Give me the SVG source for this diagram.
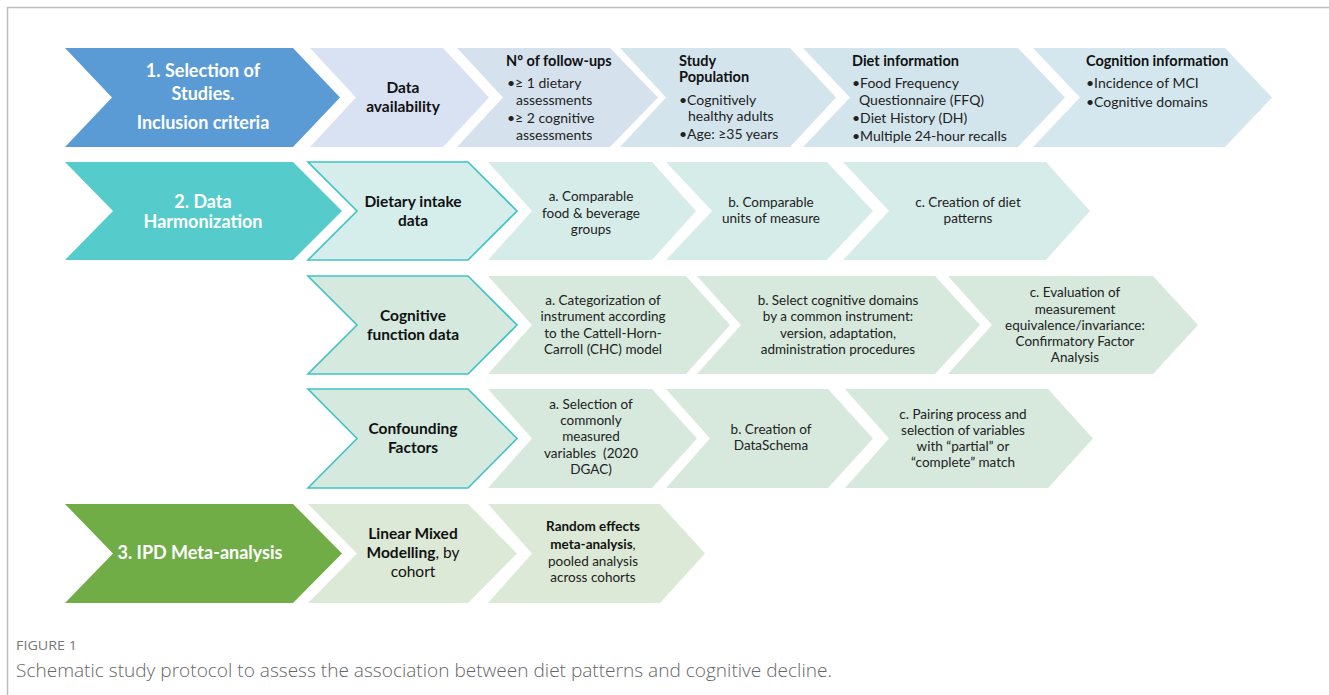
<svg xmlns="http://www.w3.org/2000/svg" width="1329" height="695" viewBox="0 0 1329 695">
<style>
  text { font-family: Lato, "Liberation Sans", sans-serif; }
  .hw { fill: #ffffff; font-weight: bold; font-size: 18px; text-anchor: middle; }
  .hb { fill: #111111; font-weight: bold; font-size: 15.5px; text-anchor: middle; }
  .h1 { fill: #111111; font-weight: bold; font-size: 14.5px; }
  .t1 { fill: #222222; font-size: 14px; }
  .tc { fill: #222222; font-size: 13.5px; text-anchor: middle; }
  .n { font-weight: normal; }
  .bb { font-weight: bold; fill: #111111; }
  .outl { stroke: #3fc3c7; stroke-width: 1.6; }
  .cap1 { font-family: "Open Sans", Lato, sans-serif; fill: #777777; font-size: 13.5px; }
  .cap2 { font-family: "Open Sans", Lato, sans-serif; fill: #666666; font-size: 18px; font-weight: 300; }
</style>
<rect x="0" y="0" width="1329" height="695" fill="#ffffff"/>
<path d="M7.5,695 V7.5 H1329" fill="none" stroke="#bdbdbd" stroke-width="1.5"/>

<g id="connectors"></g>

<!-- Row 1 -->
<g id="sel">
  <polygon points="65,48 293,48 340,97.5 293,147 65,147 112,97.5" fill="#5b9bd5"/>
  <text class="hw" x="203" y="77">1. Selection of</text>
  <text class="hw" x="203" y="100">Studies.</text>
  <text class="hw" x="203" y="129">Inclusion criteria</text>
</g>
<g id="avail">
  <polygon points="310,48 443,48 489,97.5 443,147 310,147 356,97.5" fill="#d9e2f2"/>
  <text class="hb" x="403" y="93">Data</text>
  <text class="hb" x="403" y="112">availability</text>
</g>
<g id="followups">
  <polygon points="457,48 610,48 658,97.5 610,147 457,147 503,97.5" fill="#d5e2ee"/>
  <text class="h1" x="506" y="66">Nº of follow-ups</text>
  <text class="t1" x="507" y="88">•≥ 1 dietary</text>
  <text class="t1" x="516" y="105">assessments</text>
  <text class="t1" x="507" y="123">•≥ 2 cognitive</text>
  <text class="t1" x="516" y="140">assessments</text>
</g>
<g id="population">
  <polygon points="620,48 790,48 836,97.5 790,147 620,147 666,97.5" fill="#d4e4ed"/>
  <text class="h1" x="679" y="66">Study</text>
  <text class="h1" x="679" y="82">Population</text>
  <text class="t1" x="679" y="105">•Cognitively</text>
  <text class="t1" x="688" y="121">healthy adults</text>
  <text class="t1" x="679" y="139">•Age: ≥35 years</text>
</g>
<g id="diet">
  <polygon points="803,48 1018,48 1065,97.5 1018,147 803,147 850,97.5" fill="#d3e5ec"/>
  <text class="h1" x="852" y="66">Diet information</text>
  <text class="t1" x="852" y="88">•Food Frequency</text>
  <text class="t1" x="859" y="105">Questionnaire (FFQ)</text>
  <text class="t1" x="852" y="123">•Diet History (DH)</text>
  <text class="t1" x="852" y="141">•Multiple 24-hour recalls</text>
</g>
<g id="cognition">
  <polygon points="1033,48 1225,48 1272,97.5 1225,147 1033,147 1080,97.5" fill="#d5e7ee"/>
  <text class="h1" x="1086" y="66">Cognition information</text>
  <text class="t1" x="1086" y="88">•Incidence of MCI</text>
  <text class="t1" x="1086" y="107">•Cognitive domains</text>
</g>

<!-- Row 2 -->
<g id="harm">
  <polygon points="65,162 293,162 342,211 293,260 65,260 113,211" fill="#55cbcb"/>
  <text class="hw" x="203" y="208">2. Data</text>
  <text class="hw" x="203" y="228">Harmonization</text>
</g>
<g id="dietary">
  <polygon class="outl" points="308,162 468,162 517,211 468,260 308,260 357,211" fill="#d5eeec"/>
  <text class="hb" x="413" y="207">Dietary intake</text>
  <text class="hb" x="413" y="226">data</text>
</g>
<g id="d-a">
  <polygon points="488,162 652,162 696,211 652,260 488,260 532,211" fill="#d6ece8"/>
  <text class="tc" x="591" y="201">a. Comparable</text>
  <text class="tc" x="591" y="218">food &amp; beverage</text>
  <text class="tc" x="591" y="234">groups</text>
</g>
<g id="d-b">
  <polygon points="666,162 827,162 873,211 827,260 666,260 712,211" fill="#d6ece8"/>
  <text class="tc" x="771" y="207">b. Comparable</text>
  <text class="tc" x="771" y="223">units of measure</text>
</g>
<g id="d-c">
  <polygon points="843,162 1046,162 1090,211 1046,260 843,260 889,211" fill="#d6ece8"/>
  <text class="tc" x="968" y="207">c. Creation of diet</text>
  <text class="tc" x="968" y="223">patterns</text>
</g>

<!-- Row 3 -->
<g id="cogfun">
  <polygon class="outl" points="308,276 468,276 517,325 468,374 308,374 357,325" fill="#d5e9df"/>
  <text class="hb" x="413" y="321">Cognitive</text>
  <text class="hb" x="413" y="340">function data</text>
</g>
<g id="c-a">
  <polygon points="488,276 686,276 730,325 686,374 488,374 532,325" fill="#d6e9dc"/>
  <text class="tc" x="603" y="305">a. Categorization of</text>
  <text class="tc" x="603" y="321">instrument according</text>
  <text class="tc" x="603" y="338">to the Cattell-Horn-</text>
  <text class="tc" x="603" y="354">Carroll (CHC) model</text>
</g>
<g id="c-b">
  <polygon points="697,276 935,276 980,325 935,374 697,374 741,325" fill="#d6e9dc"/>
  <text class="tc" x="838" y="305">b. Select cognitive domains</text>
  <text class="tc" x="838" y="321">by a common instrument:</text>
  <text class="tc" x="838" y="338">version, adaptation,</text>
  <text class="tc" x="838" y="354">administration procedures</text>
</g>
<g id="c-c">
  <polygon points="948,276 1153,276 1198,325 1153,374 948,374 992,325" fill="#d6e9dc"/>
  <text class="tc" x="1075" y="297">c. Evaluation of</text>
  <text class="tc" x="1075" y="314">measurement</text>
  <text class="tc" x="1075" y="330">equivalence/invariance:</text>
  <text class="tc" x="1075" y="346">Confirmatory Factor</text>
  <text class="tc" x="1075" y="362">Analysis</text>
</g>

<!-- Row 4 -->
<g id="confound">
  <polygon class="outl" points="308,389 468,389 517,438.5 468,488 308,488 357,438.5" fill="#d5e9df"/>
  <text class="hb" x="413" y="434">Confounding</text>
  <text class="hb" x="413" y="453">Factors</text>
</g>
<g id="f-a">
  <polygon points="488,389 652,389 697,438.5 652,488 488,488 532,438.5" fill="#d6e9dc"/>
  <text class="tc" x="591" y="409">a. Selection of</text>
  <text class="tc" x="591" y="425">commonly</text>
  <text class="tc" x="591" y="441">measured</text>
  <text class="tc" x="591" y="458">variables&#160; (2020</text>
  <text class="tc" x="591" y="474">DGAC)</text>
</g>
<g id="f-b">
  <polygon points="666,389 828,389 873,438.5 828,488 666,488 710,438.5" fill="#d6e9dc"/>
  <text class="tc" x="771" y="434">b. Creation of</text>
  <text class="tc" x="771" y="450">DataSchema</text>
</g>
<g id="f-c">
  <polygon points="845,389 1048,389 1093,438.5 1048,488 845,488 889,438.5" fill="#d6e9dc"/>
  <text class="tc" x="963" y="419">c. Pairing process and</text>
  <text class="tc" x="963" y="435">selection of variables</text>
  <text class="tc" x="963" y="451">with “partial” or</text>
  <text class="tc" x="963" y="467">“complete” match</text>
</g>

<!-- Row 5 -->
<g id="ipd">
  <polygon points="65,504 293,504 342,553.5 293,603 65,603 113,553.5" fill="#70ad47"/>
  <text class="hw" x="200" y="559">3. IPD Meta-analysis</text>
</g>
<g id="lmm">
  <polygon points="308,504 468,504 517,553.5 468,603 308,603 357,553.5" fill="#dce9d6"/>
  <text class="hb" x="413" y="539">Linear Mixed</text>
  <text class="hb" x="413" y="558">Modelling<tspan class="n">, by</tspan></text>
  <text class="hb n" x="413" y="577">cohort</text>
</g>
<g id="rem">
  <polygon points="488,504 660,504 705,553.5 660,603 488,603 532,553.5" fill="#dce9d6"/>
  <text class="tc bb" x="593" y="531">Random effects</text>
  <text class="tc" x="593" y="549"><tspan class="bb">meta-analysis</tspan>,</text>
  <text class="tc" x="593" y="566">pooled analysis</text>
  <text class="tc" x="593" y="582">across cohorts</text>
</g>

<!-- Caption -->
<text class="cap1" x="16" y="650" textLength="61" lengthAdjust="spacingAndGlyphs">FIGURE 1</text>
<text class="cap2" x="16" y="677" textLength="816" lengthAdjust="spacingAndGlyphs">Schematic study protocol to assess the association between diet patterns and cognitive decline.</text>
</svg>
